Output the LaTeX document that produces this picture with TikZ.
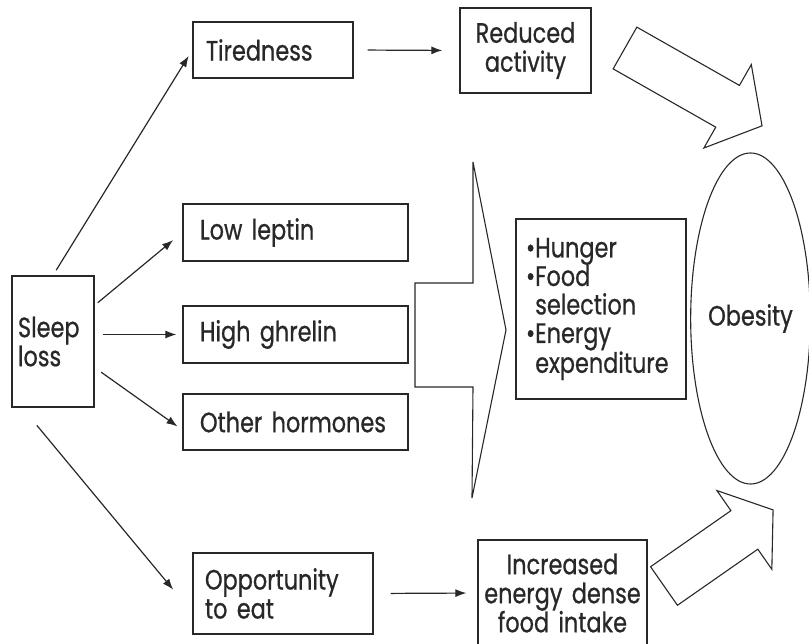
\documentclass[tikz,border=0pt]{standalone}
\usepackage{fontspec}
\setmainfont{Poppins}[FakeStretch=0.8, FakeBold=0.7]
\usepackage{tikz}
\usetikzlibrary{arrows.meta, shapes.geometric, positioning}
\definecolor{inkgray}{RGB}{40,40,40}

\begin{document}
\begin{tikzpicture}[
  x=1pt, y=-1pt,
  factor/.style={draw=inkgray, text=inkgray, line width=1.3pt,
                 align=left, inner ysep=0pt,
                 font=\fontsize{28}{29}\selectfont},
  outcome/.style={draw=inkgray, text=inkgray, ellipse, line width=1.1pt,
                  inner sep=0pt, font=\fontsize{28}{29}\selectfont},
  fat/.style={draw=inkgray, line width=1.1pt, line join=miter},
  arr/.style={-{Latex[length=11pt,width=8pt]}, line width=1.2pt, inkgray}
]
\useasboundingbox (0,0) rectangle (809,644);
\node[factor, minimum width=82pt, minimum height=131pt, text width=70pt,
      inner xsep=6pt] (sleep) at (53,341.5) {Sleep\\loss};
\node[factor, minimum height=56pt, text width=134pt, inner xsep=13pt]
  (tired) at (273,50) {Tiredness};
\node[factor, minimum height=57pt, text width=191pt, inner xsep=17pt]
  (leptin) at (295.5,232.5) {Low leptin};
\node[factor, minimum height=57pt, text width=191pt, inner xsep=17pt]
  (ghrelin) at (295.5,334.5) {High ghrelin};
\node[factor, minimum height=56pt, text width=191pt, inner xsep=17pt]
  (other) at (295.5,422) {Other hormones};
\node[factor, minimum height=81pt, text width=156pt, inner xsep=12pt]
  (opp) at (283,593.5) {Opportunity\\to eat};
\node[factor, align=center, minimum height=85pt, text width=121pt,
      inner xsep=5pt] (reduced) at (525.5,50.5) {Reduced\\activity};
\node[factor, minimum height=180pt, text width=150pt, inner xsep=10pt,
      font=\fontsize{28}{28.5}\selectfont] (hunger) at (601,309)
  {•Hunger\\•Food\\\hphantom{•}selection\\•Energy\\\hphantom{•}expenditure};
\node[factor, align=center, minimum height=106pt, text width=161pt,
      inner xsep=4pt] (increased) at (562.5,593)
  {Increased\\energy dense\\food intake};
\node[outcome, minimum width=115pt, minimum height=331pt]
  (obesity) at (750.5,318.5) {Obesity};
\draw[fat] (473,162) -- (506,330) -- (472,498) -- (473,387) -- (415,387)
  -- (415,283) -- (473,283) -- cycle;
\draw[fat, shift={(625,48)}, rotate=-29.6] (0,-24) -- (118,-24) -- (118,-48)
  -- (157.6,0) -- (118,48) -- (118,24) -- (0,24) -- cycle;
\draw[fat, shift={(664,586)}, rotate=34.9] (0,-23.5) -- (98,-23.5) -- (98,-48)
  -- (133,0) -- (98,48) -- (98,23.5) -- (0,23.5) -- cycle;
\foreach \a/\b/\s/\e in {sleep.north/tired.west/6/7,
    sleep.41/leptin.west/4/12,
    sleep.east |- ghrelin.west/ghrelin.west/8/6,
    sleep.-32/other.184/8/6,
    sleep.245/opp.192/23/30,
    tired.east/reduced.west/14/17,
    opp.east/increased.west/17/11}
  \draw[arr, shorten <=\s, shorten >=\e] (\a) -- (\b);
\end{tikzpicture}
\end{document}
